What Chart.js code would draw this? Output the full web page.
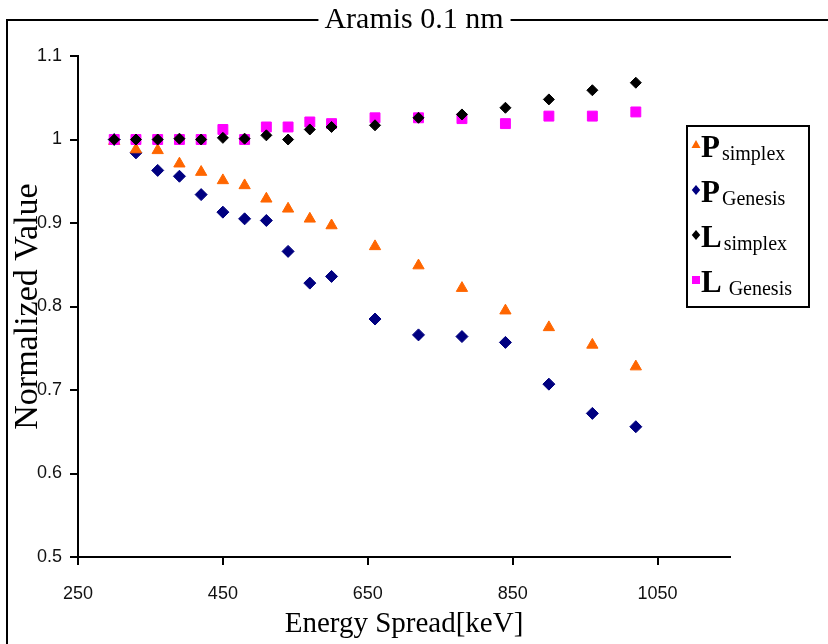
<!DOCTYPE html>
<html>
<head>
<meta charset="utf-8">
<script src="https://cdn.jsdelivr.net/npm/chart.js@4/dist/chart.umd.min.js"></script>
<style>
  body { margin: 0; background: #fff; }
  #wrap { position: relative; width: 828px; height: 644px; }
</style>
</head>
<body>
<div id="wrap"><canvas id="chart" width="828" height="644"></canvas></div>
<script>
// energy spread values (keV) shared by all series
const energy = [300, 330, 360, 390, 420, 450, 480, 510, 540, 570, 600, 660, 720, 780, 840, 900, 960, 1020];

const pSimplex = [0.998, 0.988, 0.987, 0.971, 0.961, 0.951, 0.945, 0.929, 0.917, 0.905, 0.897, 0.872, 0.849, 0.822, 0.795, 0.775, 0.754, 0.728];
const pGenesis = [1.0, 0.984, 0.963, 0.956, 0.934, 0.913, 0.905, 0.903, 0.866, 0.828, 0.836, 0.785, 0.766, 0.764, 0.757, 0.707, 0.672, 0.656];
const lSimplex = [1.0, 1.0, 1.0, 1.001, 1.0, 1.002, 1.001, 1.005, 1.0, 1.012, 1.015, 1.017, 1.026, 1.030, 1.038, 1.048, 1.059, 1.068];
const lGenesis = [1.0, 1.0, 1.0, 1.0, 1.0, 1.012, 1.0, 1.015, 1.015, 1.021, 1.019, 1.026, 1.026, 1.025, 1.019, 1.028, 1.028, 1.033];

const seriesLetters = ['P', 'P', 'L', 'L'];
const seriesSubs = ['simplex', 'Genesis', 'simplex', ' Genesis'];

const xTicks = [250, 450, 650, 850, 1050];
const yTicks = [0.5, 0.6, 0.7, 0.8, 0.9, 1, 1.1];

const titleText = 'Aramis 0.1 nm';
const xTitle = 'Energy Spread[keV]';
const yTitle = 'Normalized Value';

function pts(values) {
    return values.map((v, i) => ({ x: energy[i], y: v }));
}

// outer frame, broken by the title
const framePlugin = {
    id: 'frame',
    beforeDraw(chart) {
        const ctx = chart.ctx;
        ctx.save();
        ctx.fillStyle = '#fff';
        ctx.fillRect(0, 0, chart.width, chart.height);
        ctx.font = '30px "Liberation Serif"';
        const w = ctx.measureText(titleText).width;
        const cx = chart.width / 2;
        ctx.strokeStyle = '#000';
        ctx.lineWidth = 2;
        ctx.beginPath();
        ctx.moveTo(7, chart.height + 2);
        ctx.lineTo(7, 20);
        ctx.lineTo(cx - w / 2 - 6, 20);
        ctx.moveTo(cx + w / 2 + 7, 20);
        ctx.lineTo(chart.width + 2, 20);
        ctx.stroke();
        ctx.restore();
    }
};

function drawMarker(ctx, style, color, x, y, r) {
    ctx.fillStyle = color;
    ctx.beginPath();
    if (style === 'triangle') {
        ctx.moveTo(x, y - r);
        ctx.lineTo(x + r * 0.9, y + r * 0.6);
        ctx.lineTo(x - r * 0.9, y + r * 0.6);
    } else if (style === 'rectRot') {
        ctx.moveTo(x, y - r);
        ctx.lineTo(x + r * 0.85, y);
        ctx.lineTo(x, y + r);
        ctx.lineTo(x - r * 0.85, y);
    } else {
        ctx.rect(x - r * 0.8, y - r * 0.8, r * 1.6, r * 1.6);
    }
    ctx.closePath();
    ctx.fill();
}

// legend box with subscripted labels
const legendPlugin = {
    id: 'subLegend',
    afterDraw(chart) {
        const ctx = chart.ctx;
        const left = 687, top = 126, width = 122, height = 181;
        ctx.save();
        ctx.fillStyle = '#fff';
        ctx.fillRect(left, top, width, height);
        ctx.strokeStyle = '#000';
        ctx.lineWidth = 2;
        ctx.strokeRect(left, top, width, height);
        ctx.textBaseline = 'alphabetic';
        chart.data.datasets.forEach((ds, i) => {
            const base = 157 + i * 45;
            drawMarker(ctx, ds.pointStyle, ds.backgroundColor, 696, base - 12, 5);
            ctx.fillStyle = '#000';
            ctx.font = 'bold 31px "Liberation Serif"';
            ctx.fillText(seriesLetters[i], 701, base);
            const lw = ctx.measureText(seriesLetters[i]).width;
            ctx.font = '20px "Liberation Serif"';
            ctx.fillText(seriesSubs[i], 701 + lw + 2, base + 3);
        });
        ctx.restore();
    }
};

const tickFont = { family: '"Liberation Sans", sans-serif', size: 18 };

new Chart(document.getElementById('chart'), {
    type: 'scatter',
    data: {
        datasets: [
            { label: 'P simplex', data: pts(pSimplex), pointStyle: 'triangle', pointRadius: 6.5,
              backgroundColor: '#FF6600', borderColor: '#FF6600', borderWidth: 1, order: 2 },
            { label: 'P Genesis', data: pts(pGenesis), pointStyle: 'rectRot', pointRadius: 6,
              backgroundColor: '#000080', borderColor: '#000080', borderWidth: 1, order: 3 },
            { label: 'L simplex', data: pts(lSimplex), pointStyle: 'rectRot', pointRadius: 5.5,
              backgroundColor: '#000000', borderColor: '#000000', borderWidth: 1, order: 0 },
            { label: 'L Genesis', data: pts(lGenesis), pointStyle: 'rect', pointRadius: 7,
              backgroundColor: '#FF00FF', borderColor: '#FF00FF', borderWidth: 1, order: 1 }
        ]
    },
    options: {
        responsive: false,
        animation: false,
        layout: { padding: 0 },
        plugins: {
            legend: { display: false },
            tooltip: { enabled: false },
            title: {
                display: true,
                text: titleText,
                color: '#000',
                font: { family: '"Liberation Serif", serif', size: 30, weight: 'normal' },
                padding: { top: 2, bottom: 18 }
            }
        },
        scales: {
            x: {
                type: 'linear',
                min: 250,
                max: 1150,
                afterBuildTicks: scale => { scale.ticks = xTicks.map(v => ({ value: v })); },
                afterFit: scale => { scale.height = 87; },
                grid: { drawOnChartArea: false, drawTicks: true, tickLength: 8, color: '#000', lineWidth: 2 },
                border: { display: true, color: '#000', width: 2 },
                ticks: { color: '#111', font: tickFont, padding: 18, maxRotation: 0,
                         callback: v => String(v) },
                title: {
                    display: true,
                    text: xTitle,
                    color: '#000',
                    font: { family: '"Liberation Serif", serif', size: 29 },
                    padding: { top: 0, bottom: 2 }
                }
            },
            y: {
                type: 'linear',
                min: 0.5,
                max: 1.1,
                afterBuildTicks: scale => { scale.ticks = yTicks.map(v => ({ value: v })); },
                afterFit: scale => { scale.width = 78; },
                grid: { drawOnChartArea: false, drawTicks: true, tickLength: 8, color: '#000', lineWidth: 2 },
                border: { display: true, color: '#000', width: 2 },
                ticks: { color: '#111', font: tickFont, padding: 8,
                         callback: v => String(Number(v.toFixed(2))) },
                title: {
                    display: true,
                    text: yTitle,
                    color: '#000',
                    font: { family: '"Liberation Serif", serif', size: 34 },
                    padding: { top: 8, bottom: 0 }
                }
            },
            // empty right-hand axis that only reserves the blank strip beside the plot
            side: {
                type: 'linear',
                position: 'right',
                display: true,
                afterFit: scale => { scale.width = 98; },
                grid: { display: false },
                border: { display: false },
                ticks: { display: false }
            }
        }
    },
    plugins: [framePlugin, legendPlugin]
});
</script>
</body>
</html>
